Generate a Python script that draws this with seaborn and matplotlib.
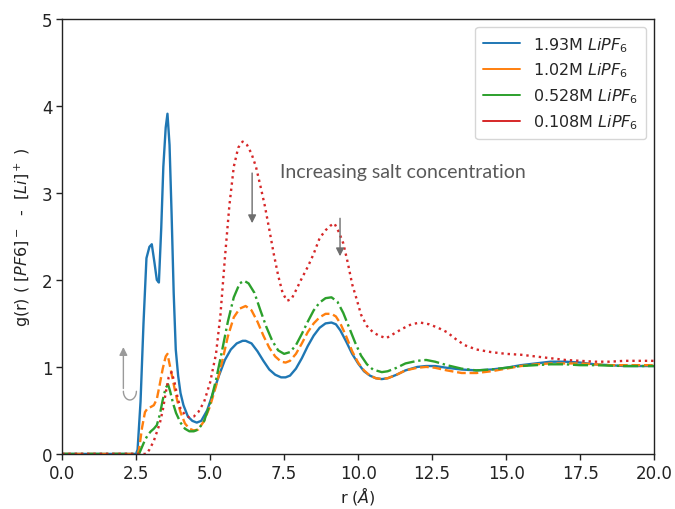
import numpy as np
import pandas as pd
import matplotlib
matplotlib.use("Agg")
import matplotlib.pyplot as plt
import seaborn as sns
from matplotlib.lines import Line2D

# ---------------- data ----------------
labels = [r'1.93M $LiPF_6$', r'1.02M $LiPF_6$', r'0.528M $LiPF_6$', r'0.108M $LiPF_6$']

r_193 = [0, 2.5, 2.55, 2.65, 2.75, 2.85, 2.95, 3.03, 3.12, 3.2, 3.27, 3.35, 3.42, 3.5, 3.56, 3.63,
         3.7, 3.77, 3.84, 3.92, 4.0, 4.1, 4.25, 4.4, 4.55, 4.7, 4.9, 5.1, 5.3, 5.5, 5.7, 5.9, 6.1,
         6.2, 6.4, 6.6, 6.8, 7.0, 7.2, 7.4, 7.55, 7.7, 7.9, 8.1, 8.3, 8.5, 8.7, 8.9, 9.1, 9.25, 9.4,
         9.6, 9.8, 10.0, 10.2, 10.4, 10.6, 10.8, 11.0, 11.3, 11.6, 12.0, 12.3, 12.6, 13.0, 13.5,
         14.0, 14.5, 15.0, 15.5, 16.0, 16.5, 17.0, 17.5, 18.0, 18.5, 19.0, 19.5, 20.0]
g_193 = [0, 0, 0.05, 0.6, 1.5, 2.25, 2.38, 2.41, 2.2, 2.0, 1.97, 2.6, 3.3, 3.75, 3.91, 3.55,
         2.75, 1.85, 1.2, 0.9, 0.7, 0.56, 0.43, 0.38, 0.36, 0.38, 0.5, 0.7, 0.9, 1.08, 1.2, 1.27, 1.3,
         1.3, 1.27, 1.18, 1.07, 0.97, 0.91, 0.88, 0.88, 0.9, 0.98, 1.1, 1.24, 1.36, 1.45, 1.5, 1.51, 1.49, 1.42,
         1.29, 1.15, 1.04, 0.95, 0.9, 0.87, 0.86, 0.87, 0.91, 0.96, 1.0, 1.01, 1.01, 0.99, 0.97,
         0.96, 0.97, 0.99, 1.02, 1.04, 1.06, 1.06, 1.05, 1.03, 1.02, 1.01, 1.01, 1.01]

r_102 = [0, 2.55, 2.6, 2.7, 2.8, 2.9, 3.0, 3.1, 3.2, 3.3, 3.4, 3.5, 3.56, 3.62, 3.7, 3.8, 3.9, 4.0,
         4.15, 4.3, 4.45, 4.6, 4.8, 5.0, 5.2, 5.4, 5.6, 5.8, 6.0, 6.2, 6.4, 6.6, 6.8, 7.0, 7.2, 7.4,
         7.55, 7.7, 7.9, 8.1, 8.3, 8.5, 8.7, 8.9, 9.1, 9.25, 9.4, 9.6, 9.8, 10.0, 10.2, 10.4, 10.6,
         10.8, 11.0, 11.3, 11.6, 12.0, 12.3, 12.6, 13.0, 13.5, 14.0, 14.5, 15.0, 15.5, 16.0, 16.5,
         17.0, 17.5, 18.0, 18.5, 19.0, 20.0]
g_102 = [0, 0, 0.05, 0.3, 0.48, 0.53, 0.54, 0.56, 0.63, 0.8, 0.98, 1.12, 1.15, 1.05, 0.92, 0.75, 0.6, 0.48,
         0.35, 0.29, 0.27, 0.28, 0.38, 0.55, 0.78, 1.05, 1.35, 1.57, 1.67, 1.7, 1.65, 1.52, 1.36, 1.22, 1.12, 1.06,
         1.05, 1.07, 1.15, 1.27, 1.4, 1.5, 1.57, 1.61, 1.61, 1.58, 1.5, 1.35, 1.18, 1.05, 0.96, 0.9, 0.87,
         0.86, 0.87, 0.91, 0.96, 0.99, 1.0, 0.99, 0.96, 0.93, 0.93, 0.95, 0.98, 1.01, 1.03, 1.04,
         1.04, 1.04, 1.03, 1.02, 1.02, 1.02]

r_0528 = [0, 2.6, 2.7, 2.8, 2.9, 3.0, 3.1, 3.2, 3.3, 3.4, 3.5, 3.58, 3.65, 3.75, 3.85, 4.0, 4.15, 4.3,
          4.45, 4.6, 4.8, 5.0, 5.2, 5.4, 5.6, 5.8, 6.0, 6.15, 6.3, 6.5, 6.7, 6.9, 7.1, 7.3, 7.5, 7.7,
          7.9, 8.1, 8.3, 8.5, 8.7, 8.9, 9.1, 9.3, 9.5, 9.7, 9.9, 10.1, 10.3, 10.5, 10.8, 11.0, 11.3,
          11.6, 12.0, 12.3, 12.6, 13.0, 13.5, 14.0, 14.5, 15.0, 15.5, 16.0, 16.5, 17.0, 17.5, 18.0,
          19.0, 20.0]
g_0528 = [0, 0, 0.08, 0.16, 0.22, 0.26, 0.29, 0.33, 0.45, 0.62, 0.76, 0.8, 0.72, 0.58, 0.47, 0.36, 0.29, 0.26,
          0.26, 0.28, 0.38, 0.58, 0.85, 1.18, 1.52, 1.8, 1.96, 1.99, 1.96, 1.85, 1.65, 1.46, 1.3, 1.19, 1.15, 1.17,
          1.25, 1.38, 1.52, 1.65, 1.74, 1.79, 1.8, 1.75, 1.62, 1.45, 1.28, 1.13, 1.03, 0.97, 0.94, 0.95, 0.99,
          1.04, 1.07, 1.08, 1.06, 1.02, 0.98, 0.96, 0.97, 0.99, 1.01, 1.02, 1.03, 1.03, 1.02, 1.02,
          1.01, 1.01]

r_0108 = [0, 2.85, 2.95, 3.1, 3.2, 3.3, 3.4, 3.5, 3.6, 3.7, 3.8, 3.9, 4.0, 4.15, 4.3, 4.45, 4.6, 4.8,
          5.0, 5.2, 5.35, 5.5, 5.65, 5.8, 5.95, 6.1, 6.25, 6.4, 6.55, 6.7, 6.85, 7.0, 7.15, 7.3, 7.45,
          7.6, 7.75, 7.9, 8.1, 8.3, 8.5, 8.7, 8.9, 9.05, 9.2, 9.35, 9.5, 9.65, 9.8, 9.95, 10.1, 10.3,
          10.5, 10.7, 10.95, 11.2, 11.5, 11.8, 12.1, 12.4, 12.7, 13.0, 13.3, 13.6, 14.0, 14.5, 15.0,
          15.5, 16.0, 16.5, 17.0, 17.5, 18.0, 18.5, 19.0, 19.5, 20.0]
g_0108 = [0, 0, 0.05, 0.15, 0.25, 0.35, 0.5, 0.7, 0.88, 0.94, 0.82, 0.65, 0.52, 0.45, 0.42, 0.43, 0.48, 0.6,
          0.82, 1.15, 1.6, 2.25, 2.85, 3.3, 3.52, 3.59, 3.55, 3.45, 3.3, 3.08, 2.85, 2.58, 2.3, 2.05, 1.85,
          1.76, 1.78, 1.88, 2.02, 2.15, 2.3, 2.48, 2.57, 2.62, 2.65, 2.55, 2.42, 2.2, 1.95, 1.78, 1.6, 1.47,
          1.4, 1.36, 1.33, 1.38, 1.44, 1.49, 1.51, 1.49, 1.45, 1.4, 1.32, 1.25, 1.2, 1.17, 1.15,
          1.14, 1.12, 1.1, 1.08, 1.07, 1.06, 1.06, 1.07, 1.07, 1.07]

x_ticks = [0.0, 2.5, 5.0, 7.5, 10.0, 12.5, 15.0, 17.5, 20.0]
y_ticks = [0, 1, 2, 3, 4, 5]

# ---------------- plotting ----------------
sns.set_theme(style="ticks")
plt.rcParams['font.family'] = ['DejaVu Sans']
plt.rcParams['mathtext.fontset'] = 'dejavusans'

series = [(r_193, g_193), (r_102, g_102), (r_0528, g_0528), (r_0108, g_0108)]
colors = ['#1f77b4', '#ff7f0e', '#2ca02c', '#d62728']
styles = ['-', '--', '-.', ':']

fig = plt.figure(figsize=(6.75, 5.10), dpi=100)
ax = fig.add_axes([0.092, 0.108, 0.877, 0.853])

for (rr, gg), lab, c, ls in zip(series, labels, colors, styles):
    df = pd.DataFrame({'r': rr, 'g': gg})
    sns.lineplot(data=df, x='r', y='g', ax=ax, color=c, linestyle=ls, linewidth=1.7,
                 estimator=None, sort=False)

ax.set_xlim(0, 20)
ax.set_ylim(0, 5)
ax.set_xticks(x_ticks)
ax.set_xticklabels([f"{t:.1f}" for t in x_ticks])
ax.set_yticks(y_ticks)
ax.tick_params(labelsize=12, length=4, width=1, colors='#222222', pad=3)
for s in ax.spines.values():
    s.set_linewidth(1.0)
    s.set_color('#222222')
    s.set_visible(True)

ax.set_xlabel('r ($Å$)', fontsize=11.5, color='#222222', labelpad=2)
ax.set_ylabel('g(r) ( $[PF6]^-$  -  $[Li]^+$ )', fontsize=11.5, color='#222222', labelpad=6)

handles = [Line2D([0], [0], color=c, lw=1.4) for c in colors]
ax.legend(handles, labels, loc='upper right', fontsize=11.5, frameon=True,
          handlelength=2.3, labelspacing=0.45, borderpad=0.5)

# annotations
gray = '#6e6e6e'
ax.text(7.36, 3.25, 'Increasing salt concentration', fontsize=14, color='#595959',
        family=['Lato', 'DejaVu Sans'], va='center', ha='left')
ax.annotate('', xy=(6.42, 2.62), xytext=(6.42, 3.26),
            arrowprops=dict(arrowstyle='-|>', color=gray, lw=1.0, mutation_scale=12))
ax.annotate('', xy=(9.39, 2.24), xytext=(9.39, 2.74),
            arrowprops=dict(arrowstyle='-|>', color=gray, lw=1.0, mutation_scale=12))
ax.annotate('', xy=(2.07, 1.26), xytext=(2.07, 0.72),
            arrowprops=dict(arrowstyle='-|>', color='#9a9a9a', lw=1.0, mutation_scale=12))
t = np.linspace(np.pi, 2 * np.pi, 20)
ax.plot(2.29 + 0.22 * np.cos(t), 0.72 + 0.10 * np.sin(t), color='#9a9a9a', lw=1.0)

fig.savefig('out.png', dpi=100)
